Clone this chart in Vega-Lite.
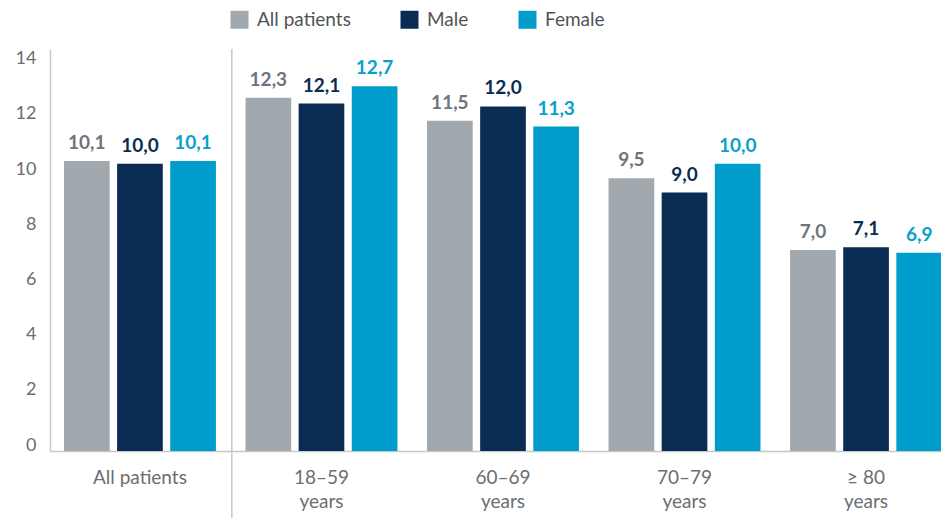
{
  "$schema": "https://vega.github.io/schema/vega-lite/v6.json",
  "autosize": {"type": "none"},
  "padding": {"left": 50, "top": 49, "right": 0, "bottom": 67},
  "width": 906,
  "height": 402,
  "config": {
    "view": {"stroke": null},
    "locale": {"number": {"decimal": ",", "thousands": ".", "grouping": [3], "currency": ["", " €"]}},
    "axis": {"ticks": false, "grid": false, "domainColor": "#c8c8c8", "domainWidth": 1.5, "labelFont": "Lato", "labelColor": "#6b6e72", "labelFontSize": 19, "title": null},
    "legend": {"labelFont": "Lato", "labelFontSize": 19, "labelColor": "#505356"}
  },
  "datasets": {
    "bars": [
      {"group": "All patients", "series": "All patients", "value": 10.1},
      {"group": "All patients", "series": "Male", "value": 10.0},
      {"group": "All patients", "series": "Female", "value": 10.1},
      {"group": "18–59 years", "series": "All patients", "value": 12.3},
      {"group": "18–59 years", "series": "Male", "value": 12.1},
      {"group": "18–59 years", "series": "Female", "value": 12.7},
      {"group": "60–69 years", "series": "All patients", "value": 11.5},
      {"group": "60–69 years", "series": "Male", "value": 12.0},
      {"group": "60–69 years", "series": "Female", "value": 11.3},
      {"group": "70–79 years", "series": "All patients", "value": 9.5},
      {"group": "70–79 years", "series": "Male", "value": 9.0},
      {"group": "70–79 years", "series": "Female", "value": 10.0},
      {"group": "≥ 80 years", "series": "All patients", "value": 7.0},
      {"group": "≥ 80 years", "series": "Male", "value": 7.1},
      {"group": "≥ 80 years", "series": "Female", "value": 6.9}
    ],
    "separator": [
      {"group": "18–59 years", "top": 14.35, "bottom": -2.65}
    ]
  },
  "encoding": {
    "x": {
      "field": "group", "type": "nominal",
      "scale": {"domain": ["All patients", "18–59 years", "60–69 years", "70–79 years", "≥ 80 years"], "paddingInner": 0.163, "paddingOuter": 0.077},
      "axis": {"labelAngle": 0, "labelPadding": 17, "labelLineHeight": 24, "labelExpr": "split(replace(datum.label, ' years', '|years'), '|')", "labelBaseline": "top"}
    }
  },
  "layer": [
    {
      "data": {"name": "bars"},
      "mark": {"type": "bar"},
      "encoding": {
        "xOffset": {"field": "series", "type": "nominal", "sort": ["All patients", "Male", "Female"], "scale": {"paddingInner": 0.14, "paddingOuter": 0}},
        "y": {"field": "value", "type": "quantitative", "scale": {"domain": [0, 14], "nice": false}, "axis": null},
        "color": {
          "field": "series", "type": "nominal",
          "scale": {"domain": ["All patients", "Male", "Female"], "range": ["#a2a9ae", "#0b2c52", "#009ccb"]},
          "legend": {"orient": "none", "legendX": 180, "legendY": -39, "direction": "horizontal", "title": null, "symbolType": "square", "symbolSize": 324, "symbolStrokeWidth": 0, "labelOffset": 8, "columnPadding": 49}
        }
      }
    },
    {
      "data": {"name": "bars"},
      "mark": {"type": "text", "baseline": "bottom", "dy": -8, "font": "Lato", "fontSize": 19, "fontWeight": "bold"},
      "encoding": {
        "xOffset": {"field": "series", "type": "nominal", "sort": ["All patients", "Male", "Female"], "scale": {"paddingInner": 0.14, "paddingOuter": 0}},
        "y": {"field": "value", "type": "quantitative", "scale": {"domain": [0, 14], "nice": false}, "axis": null},
        "text": {"field": "value", "type": "quantitative", "format": ".1f"},
        "color": {
          "field": "series", "type": "nominal",
          "scale": {"domain": ["All patients", "Male", "Female"], "range": ["#6f7478", "#0b2c52", "#0aa0cc"]},
          "legend": null
        }
      }
    },
    {
      "data": {"name": "separator"},
      "mark": {"type": "rule", "color": "#c8c8c8", "strokeWidth": 1.5},
      "encoding": {
        "x": {"field": "group", "type": "nominal", "bandPosition": -0.09},
        "y": {"field": "top", "type": "quantitative", "scale": {"domain": [-0.217, 14.35], "nice": false, "zero": false},
          "axis": {"values": [0, 2, 4, 6, 8, 10, 12, 14], "labelPadding": 14, "labelFontSize": 18}},
        "y2": {"field": "bottom"}
      }
    }
  ],
  "resolve": {"scale": {"color": "independent", "y": "independent"}}
}
